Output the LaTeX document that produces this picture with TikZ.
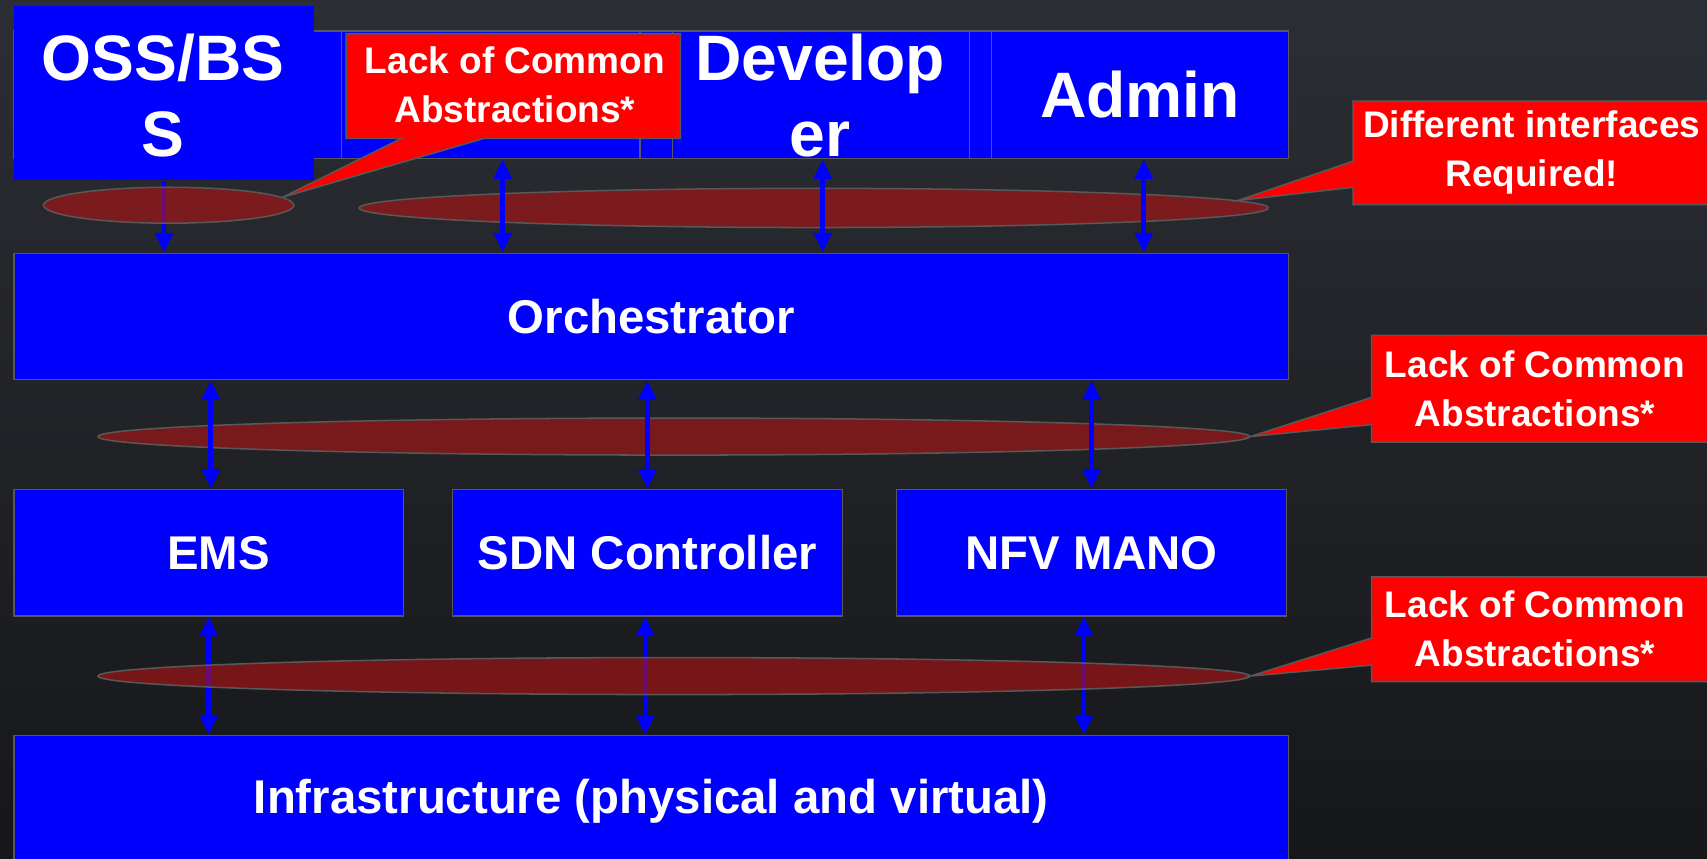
\documentclass[tikz,border=0pt]{standalone}
\usepackage{fontspec}
\setmainfont{Liberation Sans}
\usetikzlibrary{shapes.geometric,arrows.meta,calc}

\definecolor{bgtop}{RGB}{43,46,52}
\definecolor{bgbot}{RGB}{22,23,26}
\definecolor{boxblue}{RGB}{0,0,255}
\definecolor{edgegray}{RGB}{88,88,88}
\definecolor{callred}{RGB}{255,0,0}
\definecolor{hazered}{RGB}{180,19,19}

\tikzset{
  panel/.style={draw=edgegray, line width=0.7pt, fill=boxblue, anchor=north west,
    inner sep=0pt, text=white, font=\bfseries\fontsize{21.75}{26}\selectfont},
  bigtxt/.style={text=white, align=center, inner sep=0pt,
    font=\bfseries\fontsize{29.5}{35}\selectfont},
  haze/.style={ellipse, draw=edgegray, line width=0.7pt, fill=hazered,
    fill opacity=0.6, inner sep=0pt},
  link/.style={draw=boxblue, line width=2.2pt, -{Triangle[length=9pt,width=8pt]}},
  duallink/.style={draw=boxblue, line width=2.2pt,
    {Triangle[length=9pt,width=8pt]}-{Triangle[length=9pt,width=8pt]}},
  callout/.style={draw=edgegray, line width=0.7pt, fill=callred},
  calltxt/.style={text=white, align=center, inner sep=0pt,
    font=\bfseries\fontsize{17}{22.5}\selectfont},
}

\begin{document}
\begin{tikzpicture}[x=0.5pt,y=-0.5pt]
\useasboundingbox (0,0) rectangle (1568,789);
\clip (0,0) rectangle (1568,789);
\shade[top color=bgtop, bottom color=bgbot] (0,0) rectangle (1568,789);

% top row of consumer panels
\node[panel, minimum width=150.5pt, minimum height=58.5pt] (rowA) at (12,28) {};
\node[panel, minimum width=137pt, minimum height=58.5pt] (rowB) at (313,28) {};
\node[panel, minimum width=15pt, minimum height=58.5pt] (rowC) at (587,28) {};
\node[panel, minimum width=136.5pt, minimum height=58.5pt] (dev) at (617,28) {};
\node[panel, minimum width=10pt, minimum height=58.5pt] (rowE) at (890,28) {};
\node[panel, minimum width=136.5pt, minimum height=58.5pt,
      font=\bfseries\fontsize{29.5}{35}\selectfont] (admin) at (910,28) {Admin};
\node[panel, draw=none, minimum width=138pt, minimum height=80pt] (oss) at (12,5) {};
% the base anchor of a two-line label sits on its last line
\node[bigtxt, anchor=base] (osstxt) at (150,144) {OSS/BS\\S};
\node[bigtxt, anchor=base] (devtxt) at (753.5,144) {Develop\\er};

% management layers
\node[panel, minimum width=585.5pt, minimum height=58pt] (orch) at (12,232) {Orchestrator};
\node[panel, minimum width=179pt, minimum height=58pt] (ems) at (12,449) {\hspace*{9pt}EMS};
\node[panel, minimum width=179pt, minimum height=58pt] (sdn) at (415,449) {SDN Controller};
\node[panel, minimum width=179pt, minimum height=58pt] (nfv) at (823,449) {NFV MANO};
\node[panel, minimum width=585.5pt, minimum height=60pt] (infra) at (12,675)
      {Infrastructure (physical and virtual)};

% northbound interfaces
\draw[link] (oss.south) -- (oss.south |- orch.north);
\node[haze, minimum width=115pt, minimum height=16.5pt] (hazeA) at (155,188.5) {};
\node[haze, minimum width=417.5pt, minimum height=18pt] (hazeB) at (747.5,191) {};
\coordinate (pB) at ([xshift=5.5pt]rowB.south);
\coordinate (pD) at ([xshift=0.75pt]dev.south);
\coordinate (pF) at ([xshift=1.75pt]admin.south);
\draw[duallink] (pB) -- (pB |- orch.north);
\draw[duallink] (pD) -- (pD |- orch.north);
\draw[duallink] (pF) -- (pF |- orch.north);

% orchestrator to domain managers
\node[haze, minimum width=529pt, minimum height=17pt] (hazeC) at (619,401) {};
\coordinate (mE) at ([xshift=1pt]ems.north);
\draw[duallink] (mE |- orch.south) -- (mE);
\draw[duallink] (sdn.north |- orch.south) -- (sdn.north);
\draw[duallink] (nfv.north |- orch.south) -- (nfv.north);

% domain managers to infrastructure
\coordinate (qS) at ([xshift=-1pt]sdn.south);
\coordinate (qN) at ([xshift=-3.5pt]nfv.south);
\draw[duallink] (ems.south) -- (ems.south |- infra.north);
\draw[duallink] (qS) -- (qS |- infra.north);
\draw[duallink] (qN) -- (qN |- infra.north);
\node[haze, minimum width=529pt, minimum height=17pt] (hazeD) at (619,621) {};

% callouts
\draw[callout] (318,31) -- (625,31) -- (625,127) -- (445,127) -- (hazeA.4)
  -- (369,127) -- (318,127) -- cycle;
\node[calltxt] (c1) at (473,78) {Lack of Common\\Abstractions*};

\draw[callout] (1243,93) -- (1572,93) -- (1572,188) -- (1243,188) -- (1243,172)
  -- (hazeB.1.4) -- (1243,148) -- cycle;
\node[calltxt] (c2) at (1407,140) {Different interfaces\\Required!};

\draw[callout] (1260,308) -- (1572,308) -- (1572,406) -- (1260,406) -- (1260,390)
  -- (hazeC.east) -- (1260,365) -- cycle;
\node[calltxt] (c3) at (1410,357) {Lack of Common\\Abstractions*};

\draw[callout] (1260,530) -- (1572,530) -- (1572,626) -- (1260,626) -- (1260,611)
  -- (hazeD.east) -- (1260,586) -- cycle;
\node[calltxt] (c4) at (1410,578) {Lack of Common\\Abstractions*};
\end{tikzpicture}
\end{document}
